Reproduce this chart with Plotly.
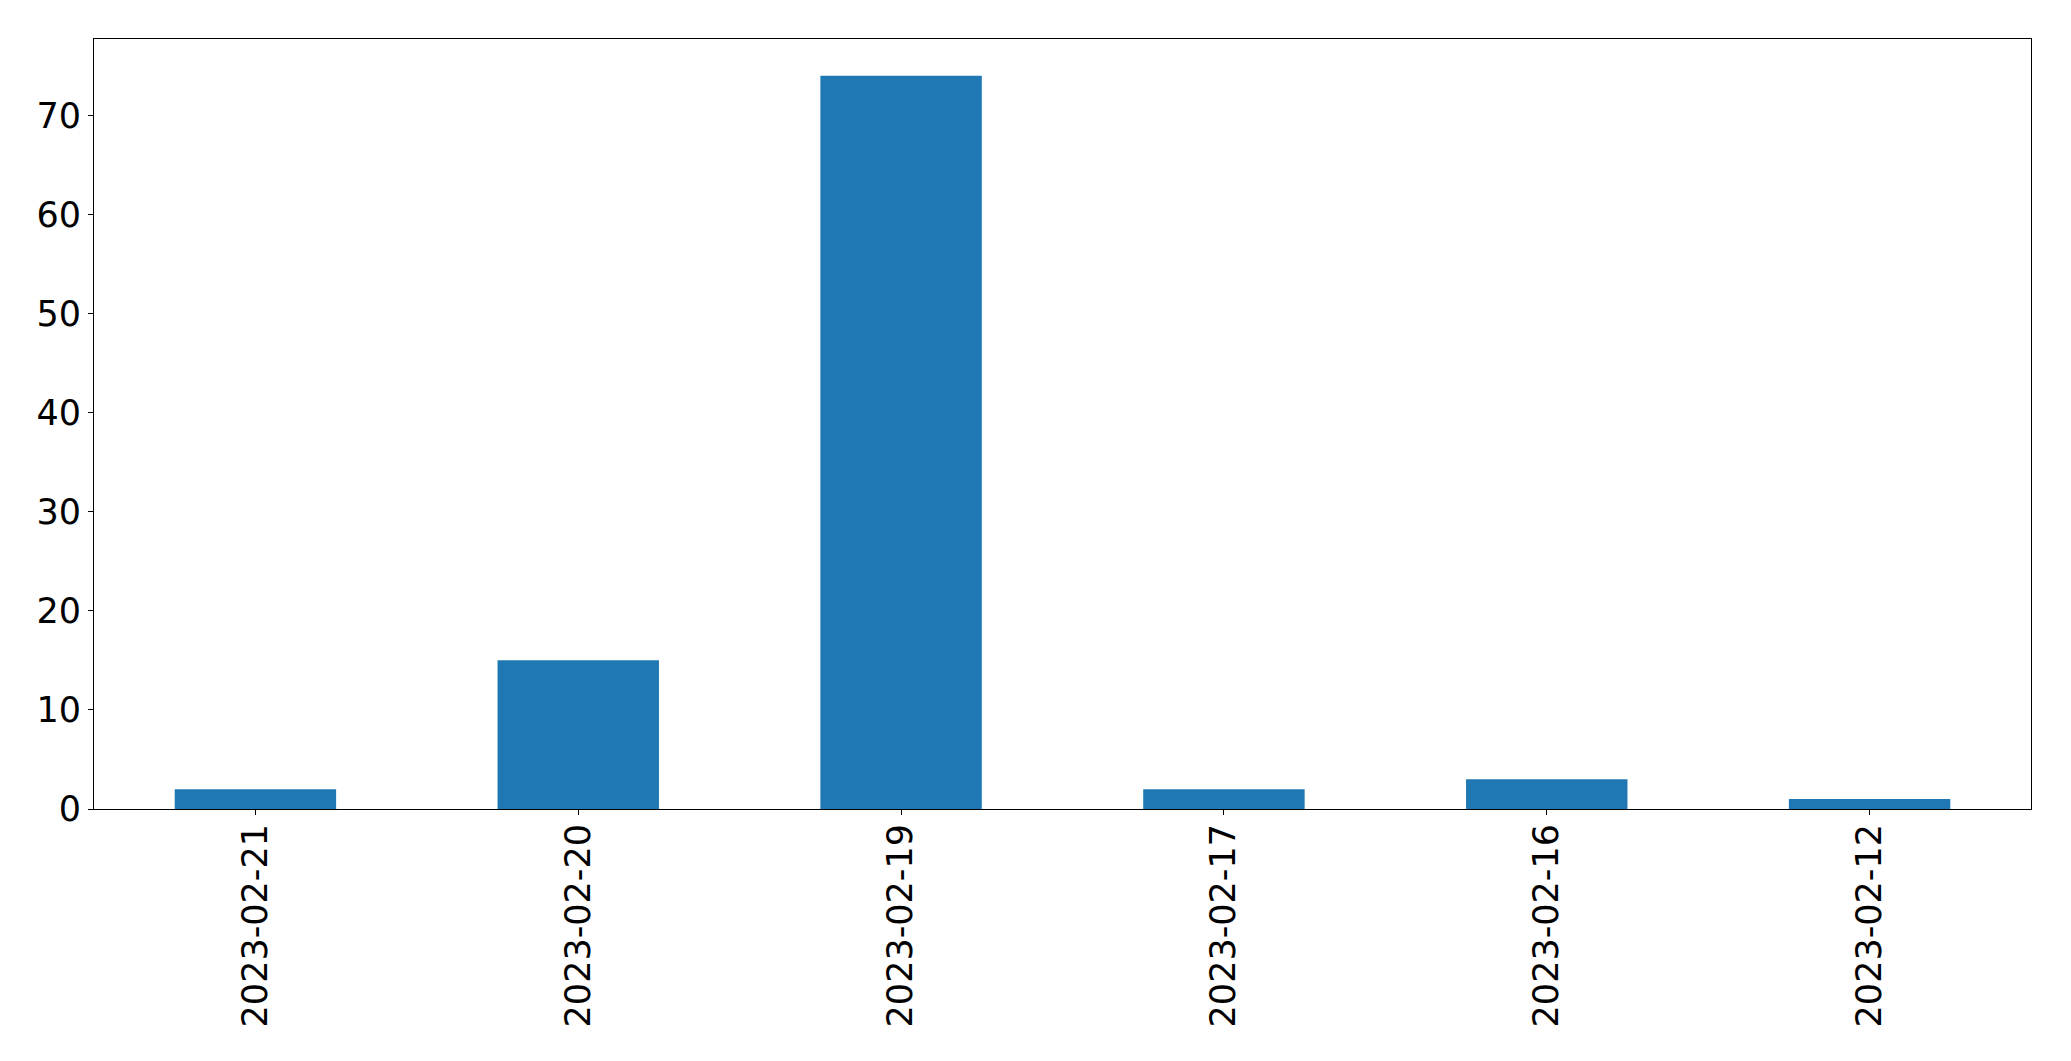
import plotly.graph_objects as go

dates = ["2023-02-21", "2023-02-20", "2023-02-19", "2023-02-17", "2023-02-16", "2023-02-12"]
counts = [2, 15, 74, 2, 3, 1]
y_ticks = [0, 10, 20, 30, 40, 50, 60, 70]

fig = go.Figure(go.Bar(
    x=list(range(len(dates))), y=counts, width=0.5,
    marker=dict(color="#1f77b4", line=dict(width=0)),
))

font = dict(family="DejaVu Sans", size=35, color="black")
fig.update_layout(
    width=2063, height=1053,
    margin=dict(l=86, r=40, t=31, b=252, autoexpand=False),
    paper_bgcolor="white", plot_bgcolor="white",
    showlegend=False, font=font,
)
fig.update_xaxes(
    range=[-0.5, len(dates) - 0.5],
    tickmode="array", tickvals=list(range(len(dates))), ticktext=dates,
    tickangle=-90, ticks="outside", ticklen=5, tickwidth=1, tickcolor="black",
    ticklabelstandoff=-5,
    showline=True, linecolor="black", linewidth=1, mirror=True,
    showgrid=False, zeroline=False, tickfont=font,
)
fig.update_yaxes(
    range=[0, max(counts) * 1.05],
    tickmode="array", tickvals=y_ticks,
    ticks="outside", ticklen=5, tickwidth=1, tickcolor="black",
    showline=True, linecolor="black", linewidth=1, mirror=True,
    showgrid=False, zeroline=False, tickfont=font,
)
fig.write_html("out.html")
